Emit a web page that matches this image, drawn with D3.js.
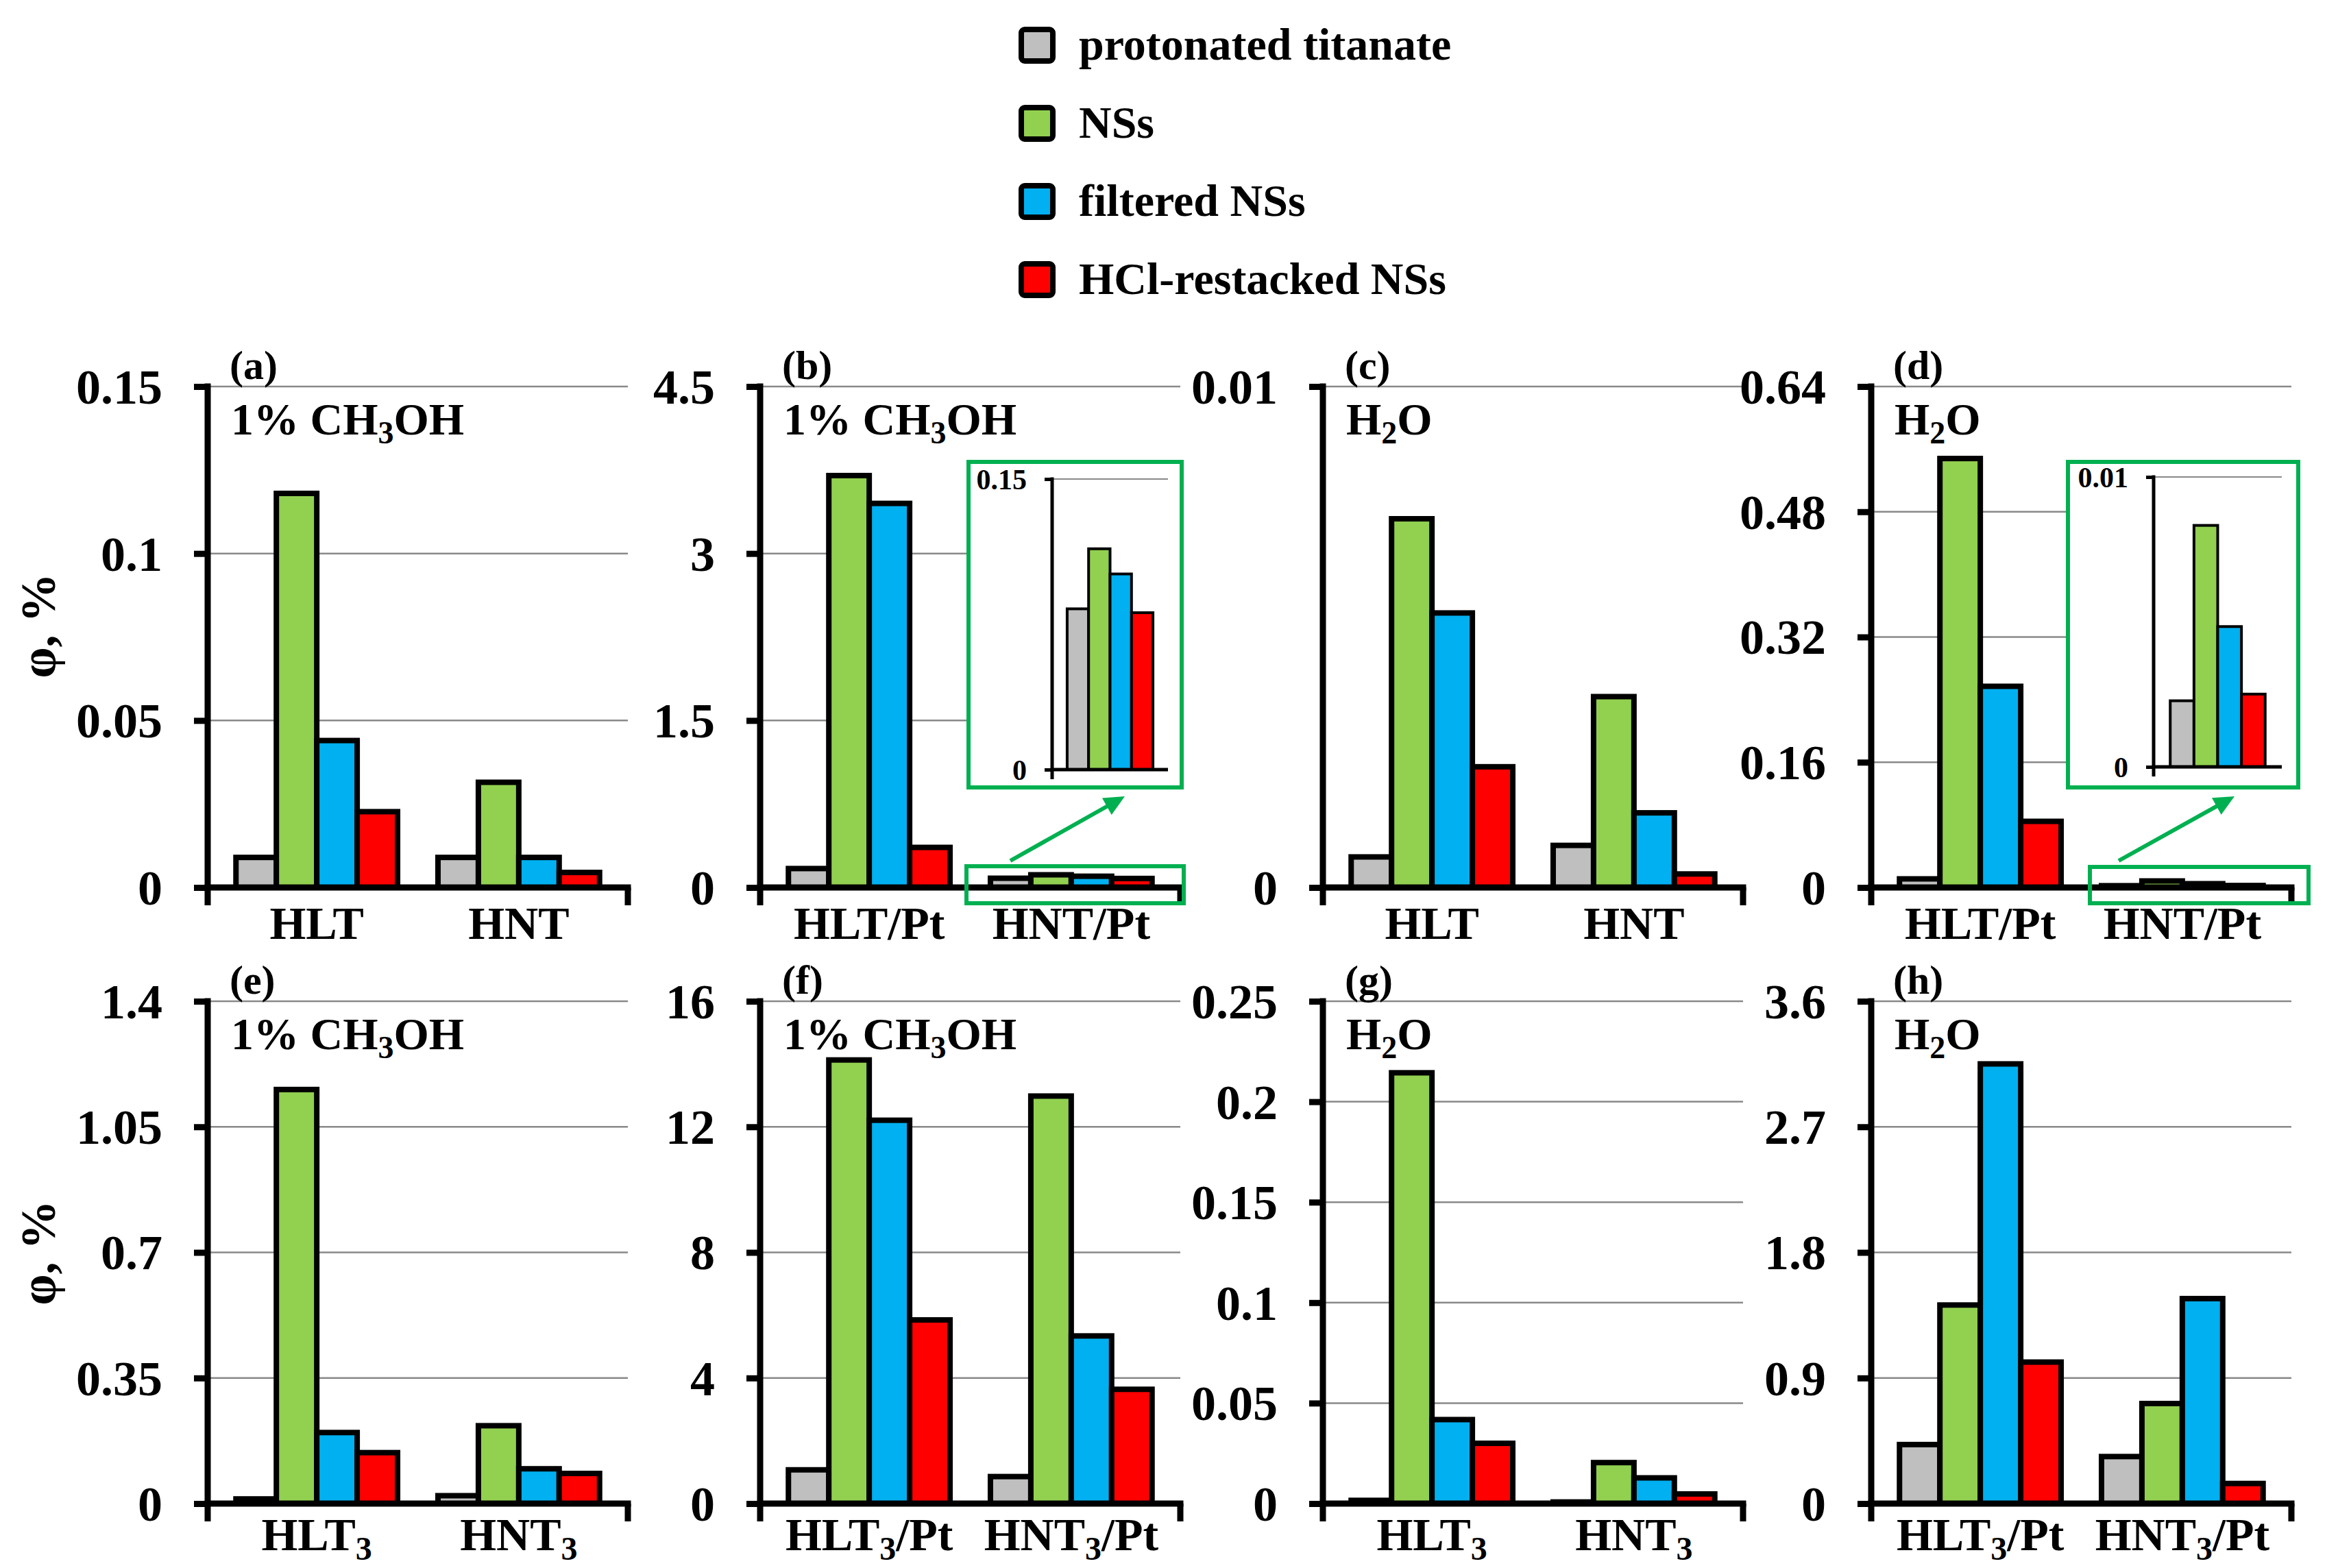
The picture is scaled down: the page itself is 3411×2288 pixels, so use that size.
<!DOCTYPE html>
<meta charset="utf-8">
<head>
<script src="https://d3js.org/d3.v7.min.js"></script>
<style>
  body { margin: 0; background: #fff; }
  text { font-family: "Liberation Serif", "Times New Roman", serif; font-weight: bold; fill: #000; }
</style>
</head>
<body>
<div id="chart"></div>
<script>

// series (legend order)
var seriesNames = ["protonated titanate", "NSs", "filtered NSs", "HCl-restacked NSs"];
var seriesColors = ["#BFBFBF", "#92D050", "#00B0F0", "#FF0000"];

// categories, "_3" = subscript
var catsA = ["HLT", "HNT"];
var catsB = ["HLT/Pt", "HNT/Pt"];
var catsE = ["HLT_3", "HNT_3"];
var catsF = ["HLT_3/Pt", "HNT_3/Pt"];

// quantum efficiency values, one row per category, columns follow seriesNames
var valuesA = [[0.009, 0.118, 0.044, 0.0227], [0.009, 0.0315, 0.009, 0.0045]];
var valuesB = [[0.17, 3.70, 3.45, 0.36], [0.083, 0.114, 0.101, 0.081]];
var valuesC = [[0.00061, 0.00736, 0.00548, 0.00241], [0.00084, 0.00381, 0.00149, 0.00027]];
var valuesD = [[0.011, 0.548, 0.257, 0.0845], [0.00228, 0.00833, 0.00484, 0.00251]];
var valuesE = [[0.013, 1.154, 0.198, 0.142], [0.022, 0.217, 0.097, 0.084]];
var valuesF = [[1.075, 14.13, 12.21, 5.85], [0.86, 12.98, 5.34, 3.64]];
var valuesG = [[0.0016, 0.2144, 0.0418, 0.030], [0.0008, 0.0204, 0.0128, 0.0048]];
var valuesH = [[0.423, 1.423, 3.151, 1.014], [0.337, 0.717, 1.469, 0.144]];

// y ticks
var ticksA = [0, 0.05, 0.1, 0.15];
var ticksB = [0, 1.5, 3, 4.5];
var ticksC = [0, 0.01];
var ticksD = [0, 0.16, 0.32, 0.48, 0.64];
var ticksE = [0, 0.35, 0.7, 1.05, 1.4];
var ticksF = [0, 4, 8, 12, 16];
var ticksG = [0, 0.05, 0.1, 0.15, 0.2, 0.25];
var ticksH = [0, 0.9, 1.8, 2.7, 3.6];
var ticksInsetB = [0, 0.15];
var ticksInsetD = [0, 0.01];

var panels = [
    {tag: "(a)", cond: "1% CH_3OH", cats: catsA, values: valuesA, ticks: ticksA, col: 0, row: 0},
    {tag: "(b)", cond: "1% CH_3OH", cats: catsB, values: valuesB, ticks: ticksB, col: 1, row: 0},
    {tag: "(c)", cond: "H_2O", cats: catsA, values: valuesC, ticks: ticksC, col: 2, row: 0},
    {tag: "(d)", cond: "H_2O", cats: catsB, values: valuesD, ticks: ticksD, col: 3, row: 0},
    {tag: "(e)", cond: "1% CH_3OH", cats: catsE, values: valuesE, ticks: ticksE, col: 0, row: 1},
    {tag: "(f)", cond: "1% CH_3OH", cats: catsF, values: valuesF, ticks: ticksF, col: 1, row: 1},
    {tag: "(g)", cond: "H_2O", cats: catsE, values: valuesG, ticks: ticksG, col: 2, row: 1},
    {tag: "(h)", cond: "H_2O", cats: catsF, values: valuesH, ticks: ticksH, col: 3, row: 1}
];

// zoom-in insets for the small HNT/Pt bars
var insets = [
    {panel: 1, values: valuesB[1], ticks: ticksInsetB,
     box: [1413, 674, 311, 475], axis: [1535, 1704, 699, 1123],
     zoomBox: [1410, 1264, 317, 54], arrow: [1474, 1256, 1641, 1162]},
    {panel: 3, values: valuesD[1], ticks: ticksInsetD,
     box: [3017, 674, 336, 475], axis: [3142, 3329, 696, 1119],
     zoomBox: [3049, 1265, 319, 53], arrow: [3091, 1256, 3260, 1162]}
];

// layout
var W = 3411, H = 2288;
var colX = [303, 1109, 1930, 2730], plotW = 613;
var rowTop = [564, 1461], rowZero = [1295, 2194], catLabelY = [75, 68];
var boxGreen = "#00B050", gridGrey = "#898989";

var svg = d3.select("#chart").append("svg")
    .attr("width", W)
    .attr("height", H);

// text with "_n" subscripts
function richText(sel, str, subSize, drop) {
    var parts = str.split(/_(\d)/);
    parts.forEach(function(p, i) {
        if (!p) return;
        var t = sel.append("tspan").text(p);
        if (i % 2) t.attr("font-size", subSize).attr("dy", drop);
        else if (i > 0) t.attr("dy", -drop);
    });
}

function bandScale(domain, x0, x1) {
    return d3.scaleBand().domain(domain).range([x0, x1]).paddingInner(0.2).paddingOuter(0.14);
}

function drawBars(g, x, y, cats, values, strokeW) {
    var xs = d3.scaleBand().domain(seriesNames).range([0, x.bandwidth()]);
    var rows = [];
    cats.forEach(function(c, ci) {
        values[ci].forEach(function(v, si) { rows.push({cat: c, s: seriesNames[si], v: v, color: seriesColors[si]}); });
    });
    g.append("g").selectAll("rect")
        .data(rows)
        .enter().append("rect")
        .attr("x", function(d) { return x(d.cat) + xs(d.s); })
        .attr("y", function(d) { return y(d.v); })
        .attr("width", xs.bandwidth())
        .attr("height", function(d) { return y(0) - y(d.v); })
        .attr("fill", function(d) { return d.color; })
        .attr("stroke", "#000")
        .attr("stroke-width", strokeW);
}

function drawYAxis(g, y, ticks, x0, x1, o) {
    // gridlines
    g.append("g").selectAll("line")
        .data(ticks.filter(function(t) { return t > 0; }))
        .enter().append("line")
        .attr("x1", x0).attr("x2", x1)
        .attr("y1", function(d) { return y(d); })
        .attr("y2", function(d) { return y(d); })
        .attr("stroke", gridGrey)
        .attr("stroke-width", o.grid);
    return function() {
        var ax = g.append("g")
            .attr("transform", "translate(" + x0 + ",0)")
            .call(d3.axisLeft(y).tickValues(ticks).tickFormat(function(d) { return String(d); })
                .tickSize(o.tick).tickSizeOuter(0).tickPadding(o.pad));
        ax.select(".domain").remove();
        ax.attr("font-family", null).attr("font-size", null);
        ax.selectAll(".tick line").attr("stroke", "#000").attr("stroke-width", o.lw);
        ax.selectAll(".tick text").attr("font-size", o.font).attr("dy", "0.34em");
        g.append("line")
            .attr("x1", x0).attr("x2", x0)
            .attr("y1", y.range()[1] - o.lw / 2).attr("y2", y(0) + o.below)
            .attr("stroke", "#000").attr("stroke-width", o.lw);
        g.append("line")
            .attr("x1", x0 - o.lw / 2).attr("x2", x1 + (o.endTick ? o.lw / 2 : 0))
            .attr("y1", y(0)).attr("y2", y(0))
            .attr("stroke", "#000").attr("stroke-width", o.lw);
        if (o.endTick) {
            g.append("line")
                .attr("x1", x1).attr("x2", x1)
                .attr("y1", y(0)).attr("y2", y(0) + o.below)
                .attr("stroke", "#000").attr("stroke-width", o.lw);
        }
    };
}

panels.forEach(function(p) {
    var g = svg.append("g");
    var x0 = colX[p.col], x1 = x0 + plotW;
    var top = rowTop[p.row], zero = rowZero[p.row];
    var x = bandScale(p.cats, x0, x1);
    var y = d3.scaleLinear().domain([0, p.ticks[p.ticks.length - 1]]).range([zero, top]);

    var axes = drawYAxis(g, y, p.ticks, x0, x1, {grid: 2.5, tick: 20, pad: 46, lw: 9, font: 72, below: 26, endTick: true});
    drawBars(g, x, y, p.cats, p.values, 8);
    axes();

    // category labels
    p.cats.forEach(function(c) {
        var t = g.append("text")
            .attr("x", x(c) + x.bandwidth() / 2)
            .attr("y", zero + catLabelY[p.row])
            .attr("text-anchor", "middle")
            .attr("font-size", 68);
        richText(t, c, 48, 14);
    });

    g.append("text")
        .attr("x", x0 + 32)
        .attr("y", top - 11)
        .attr("font-size", 60)
        .text(p.tag);

    var ct = g.append("text")
        .attr("x", x0 + 34)
        .attr("y", top + 70)
        .attr("font-size", 66);
    richText(ct, p.cond, 46, 13);
});

insets.forEach(function(s) {
    var p = panels[s.panel];
    var g = svg.append("g");

    g.append("rect")
        .attr("x", s.box[0]).attr("y", s.box[1])
        .attr("width", s.box[2]).attr("height", s.box[3])
        .attr("fill", "#fff")
        .attr("stroke", boxGreen).attr("stroke-width", 6);

    var ax0 = s.axis[0], ax1 = s.axis[1];
    var x = bandScale([p.cats[1]], ax0, ax1);
    var y = d3.scaleLinear().domain([0, s.ticks[s.ticks.length - 1]]).range([s.axis[3], s.axis[2]]);

    var axes = drawYAxis(g, y, s.ticks, ax0, ax1, {grid: 2, tick: 11, pad: 26, lw: 5, font: 42, below: 14, endTick: false});
    drawBars(g, x, y, [p.cats[1]], [s.values], 4);
    axes();

    // box around the magnified bars
    g.append("rect")
        .attr("x", s.zoomBox[0]).attr("y", s.zoomBox[1])
        .attr("width", s.zoomBox[2]).attr("height", s.zoomBox[3])
        .attr("fill", "none")
        .attr("stroke", boxGreen).attr("stroke-width", 6);

    // arrow
    var a = s.arrow;
    var dx = a[2] - a[0], dy = a[3] - a[1], len = Math.sqrt(dx * dx + dy * dy);
    var ux = dx / len, uy = dy / len, head = 30, half = 14;
    var bx = a[2] - ux * head, by = a[3] - uy * head;
    g.append("line")
        .attr("x1", a[0]).attr("y1", a[1]).attr("x2", bx + ux * 4).attr("y2", by + uy * 4)
        .attr("stroke", boxGreen).attr("stroke-width", 6);
    g.append("polygon")
        .attr("points", [[a[2], a[3]], [bx - uy * half, by + ux * half], [bx + uy * half, by - ux * half]].join(" "))
        .attr("fill", boxGreen);
});

// y axis titles
rowTop.forEach(function(t, i) {
    svg.append("text")
        .attr("transform", "translate(80," + [913, 1828][i] + ") rotate(-90)")
        .attr("text-anchor", "middle")
        .attr("font-size", 72)
        .text("φ, %");
});

// legend
var legend = svg.append("g").attr("transform", "translate(1490,0)");
legend.selectAll("rect")
    .data(seriesNames)
    .enter().append("rect")
    .attr("x", 0)
    .attr("y", function(d, i) { return 43 + i * 114; })
    .attr("width", 46).attr("height", 46)
    .attr("rx", 5)
    .attr("fill", function(d, i) { return seriesColors[i]; })
    .attr("stroke", "#000").attr("stroke-width", 8);
legend.selectAll("text")
    .data(seriesNames)
    .enter().append("text")
    .attr("x", 84)
    .attr("y", function(d, i) { return 87 + i * 114; })
    .attr("font-size", 66)
    .text(function(d) { return d; });

</script>
</body>
